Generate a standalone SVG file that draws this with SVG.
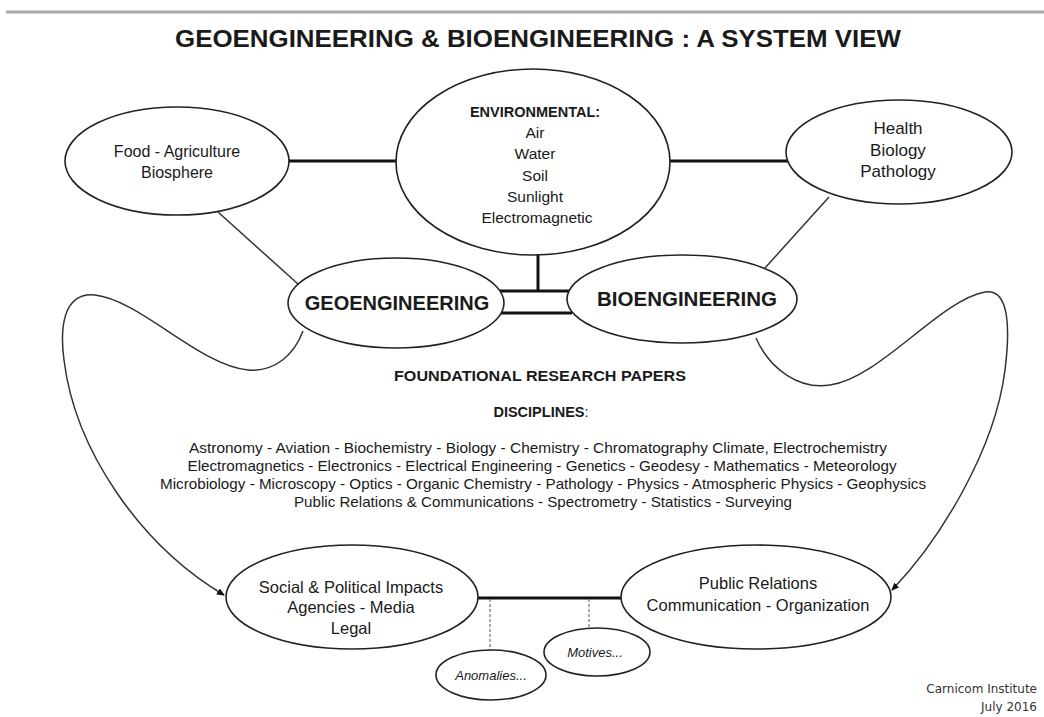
<svg xmlns="http://www.w3.org/2000/svg" width="1044" height="717" viewBox="0 0 1044 717">
<style>
.el{fill:#fff;stroke:#222;stroke-width:1.6}
.t{font-family:"Liberation Sans",Arial,sans-serif;fill:#1a1a1a;text-anchor:middle}
.b{font-weight:bold}
.thin{stroke:#333;stroke-width:1.5;fill:none}
.thick{stroke:#111;stroke-width:3;fill:none}
.dash{stroke:#555;stroke-width:1;stroke-dasharray:3,2;fill:none}
</style>
<defs>
<marker id="ah" markerUnits="userSpaceOnUse" markerWidth="8" markerHeight="7" refX="7" refY="3.5" orient="auto">
<path d="M0,0 L8,3.5 L0,7 z" fill="#111"/>
</marker>
</defs>
<rect width="1044" height="717" fill="#fff"/>
<line x1="6" y1="12" x2="1044" y2="12" stroke="#a8a8a8" stroke-width="3"/>
<text class="t b" x="538" y="47" font-size="24" textLength="726" lengthAdjust="spacingAndGlyphs">GEOENGINEERING &amp; BIOENGINEERING : A SYSTEM VIEW</text>

<g id="connectors">
<line class="thick" x1="289" y1="161" x2="397" y2="161"/>
<line class="thick" x1="669" y1="161" x2="788" y2="161"/>
<line class="thin" x1="218" y1="212" x2="298" y2="284"/>
<line class="thin" x1="829" y1="197" x2="765" y2="268"/>
<line class="thick" x1="538" y1="254" x2="538" y2="291"/>
<line class="thick" x1="500" y1="291" x2="572" y2="291"/>
<line class="thick" x1="500" y1="313" x2="572" y2="313"/>
<path class="thin" d="M 303 331 C 294 355, 275 372, 248 370 C 200 366, 140 300, 95 295 C 62 292, 60 330, 64 360 C 75 450, 140 545, 224 595" marker-end="url(#ah)"/>
<path class="thin" d="M 756 338 C 770 370, 800 390, 830 385 C 880 378, 940 300, 985 292 C 1010 288, 1010 330, 1005 370 C 995 450, 940 540, 892 590" marker-end="url(#ah)"/>
<line class="thick" x1="477" y1="598" x2="622" y2="598"/>
<line class="dash" x1="490" y1="599" x2="490" y2="650"/>
<line class="dash" x1="589" y1="599" x2="589" y2="628"/>
</g>

<g id="food">
<ellipse class="el" cx="177" cy="161" rx="112" ry="54"/>
<text class="t" x="177" y="157" font-size="16">Food - Agriculture</text>
<text class="t" x="177" y="178" font-size="16">Biosphere</text>
</g>

<g id="environmental">
<ellipse class="el" cx="533" cy="162" rx="137" ry="93"/>
<text class="t b" x="535" y="117" font-size="14.5">ENVIRONMENTAL:</text>
<text class="t" x="535" y="138" font-size="15.5">Air</text>
<text class="t" x="535" y="159" font-size="15.5">Water</text>
<text class="t" x="535" y="181" font-size="15.5">Soil</text>
<text class="t" x="535" y="202" font-size="15.5">Sunlight</text>
<text class="t" x="537" y="223" font-size="15.5">Electromagnetic</text>
</g>

<g id="health">
<ellipse class="el" cx="899" cy="152" rx="113" ry="52"/>
<text class="t" x="898" y="134" font-size="17">Health</text>
<text class="t" x="898" y="156" font-size="17">Biology</text>
<text class="t" x="898" y="177" font-size="17">Pathology</text>
</g>

<g id="geoengineering">
<ellipse class="el" cx="396" cy="303" rx="108" ry="45"/>
<text class="t b" x="397" y="310" font-size="20">GEOENGINEERING</text>
</g>

<g id="bioengineering">
<ellipse class="el" cx="682" cy="299" rx="115" ry="44"/>
<text class="t b" x="687" y="306" font-size="20.5">BIOENGINEERING</text>
</g>

<g id="research">
<text class="t b" x="540" y="381" font-size="14.5" textLength="292" lengthAdjust="spacingAndGlyphs">FOUNDATIONAL RESEARCH PAPERS</text>
<text class="t" x="541" y="417" font-size="14.5"><tspan font-weight="bold">DISCIPLINES</tspan>:</text>
<text class="t" x="538" y="453" font-size="15" textLength="698" lengthAdjust="spacingAndGlyphs">Astronomy - Aviation - Biochemistry - Biology - Chemistry - Chromatography Climate, Electrochemistry</text>
<text class="t" x="542" y="471" font-size="15" textLength="709" lengthAdjust="spacingAndGlyphs">Electromagnetics - Electronics - Electrical Engineering - Genetics - Geodesy - Mathematics - Meteorology</text>
<text class="t" x="543" y="489" font-size="15" textLength="766" lengthAdjust="spacingAndGlyphs">Microbiology - Microscopy - Optics - Organic Chemistry - Pathology - Physics - Atmospheric Physics - Geophysics</text>
<text class="t" x="543" y="507" font-size="15" textLength="498" lengthAdjust="spacingAndGlyphs">Public Relations &amp; Communications - Spectrometry - Statistics - Surveying</text>
</g>

<g id="social">
<ellipse class="el" cx="352" cy="597" rx="126" ry="52"/>
<text class="t" x="351" y="593" font-size="16.5">Social &amp; Political Impacts</text>
<text class="t" x="351" y="613" font-size="16.5">Agencies - Media</text>
<text class="t" x="351" y="634" font-size="16.5">Legal</text>
</g>

<g id="public">
<ellipse class="el" cx="756" cy="597" rx="135" ry="52"/>
<text class="t" x="758" y="589" font-size="16.5">Public Relations</text>
<text class="t" x="758" y="611" font-size="16.5">Communication - Organization</text>
</g>

<g id="anomalies">
<ellipse class="el" cx="491" cy="675" rx="55" ry="25"/>
<text class="t" x="491" y="680" font-size="13" font-style="italic">Anomalies...</text>
</g>

<g id="motives">
<ellipse class="el" cx="597" cy="652" rx="53" ry="24"/>
<text class="t" x="595" y="657" font-size="13" font-style="italic">Motives...</text>
</g>

<g id="credit">
<text x="1037" y="693" font-family="DejaVu Sans,sans-serif" font-size="12" fill="#333" text-anchor="end">Carnicom Institute</text>
<text x="1037" y="711" font-family="DejaVu Sans,sans-serif" font-size="12" fill="#333" text-anchor="end">July 2016</text>
</g>
</svg>
